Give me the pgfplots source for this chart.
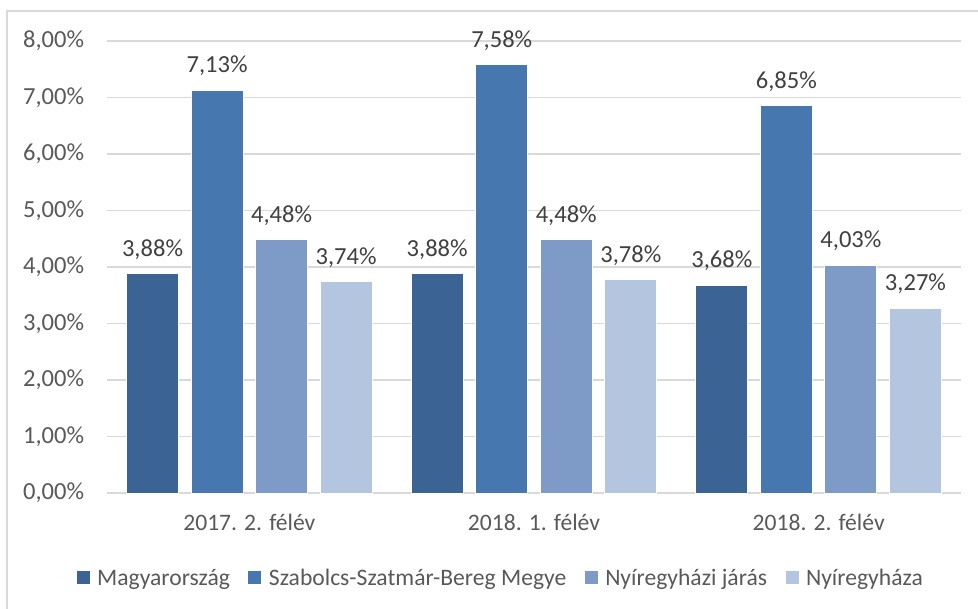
\documentclass[border=0pt]{standalone}
\usepackage{pgfplots}
\pgfplotsset{compat=1.18}
\usepackage{fontspec}
\setmainfont{Carlito}
\definecolor{c1}{HTML}{3B6494}
\definecolor{c2}{HTML}{4777AF}
\definecolor{c3}{HTML}{7E9BC7}
\definecolor{c4}{HTML}{B4C5E0}
\definecolor{gridc}{HTML}{D9D9D9}
\definecolor{tickc}{HTML}{595959}
\definecolor{labc}{HTML}{404040}
\newcommand\fs{\fontsize{18.4pt}{22pt}\selectfont}
\newcommand\fst{\fontsize{17.7pt}{21pt}\selectfont}
\begin{document}
\begin{tikzpicture}
\useasboundingbox (-80.25pt,-86.25pt) rectangle (653.25pt,369.75pt);
\draw[gridc, line width=1pt] (-75pt,-90pt) -- (-75pt,361.5pt) -- (660pt,361.5pt);
\begin{axis}[
  at={(0pt,0pt)}, anchor=south west,
  scale only axis, width=640.5pt, height=339pt,
  xmin=-0.5, xmax=2.5, ymin=0, ymax=8,
  ybar=9.4pt,
  xtick={0,1,2},
  xticklabels={2017. 2. félév, 2018. 1. félév, 2018. 2. félév},
  ytick={0,1,2,3,4,5,6,7,8},
  yticklabel={\pgfmathprintnumber[fixed,zerofill,precision=2,use comma,assume math mode=true]{\tick}\%},
  axis x line*=bottom, axis y line*=left,
  x axis line style={gridc, line width=1pt, -},
  y axis line style={draw=none},
  major tick length=0pt, tick style={draw=none},
  ymajorgrids, grid style={gridc, line width=1pt},
  xticklabel style={font=\fst, text=tickc, anchor=base, inner sep=0pt, yshift=-28.3pt},
  yticklabel style={font=\fs, text=tickc, anchor=east, inner sep=0pt, xshift=-17pt},
  bar width=39pt,
  nodes near coords={\pgfmathprintnumber[fixed,zerofill,precision=2,use comma,assume math mode=true]{\pgfplotspointmeta}\%},
  every node near coord/.append style={font=\fs, text=labc, anchor=base, inner sep=0pt, yshift=13pt},
  legend columns=4,
  legend image code/.code={\path (-13.5pt,0pt) -- (15pt,0pt); \fill[#1, draw=none] (0pt,-4.875pt) rectangle (9.75pt,4.875pt);},
  legend style={draw=none, fill=none, inner sep=0pt, column sep=0pt, font=\fst, text=tickc,
    nodes={inner sep=0pt}, at={(-0.0574,-0.188)}, anchor=west},
  legend cell align=left,
]
\addplot[fill=c1, draw=white, line width=0.75pt] coordinates {(0,3.88) (1,3.88) (2,3.68)};
\addplot[fill=c2, draw=white, line width=0.75pt] coordinates {(0,7.13) (1,7.58) (2,6.85)};
\addplot[fill=c3, draw=white, line width=0.75pt] coordinates {(0,4.48) (1,4.48) (2,4.03)};
\addplot[fill=c4, draw=white, line width=0.75pt] coordinates {(0,3.74) (1,3.78) (2,3.27)};
\legend{Magyarország, Szabolcs-Szatmár-Bereg Megye, Nyíregyházi járás, Nyíregyháza}
\end{axis}
\end{tikzpicture}
\end{document}
